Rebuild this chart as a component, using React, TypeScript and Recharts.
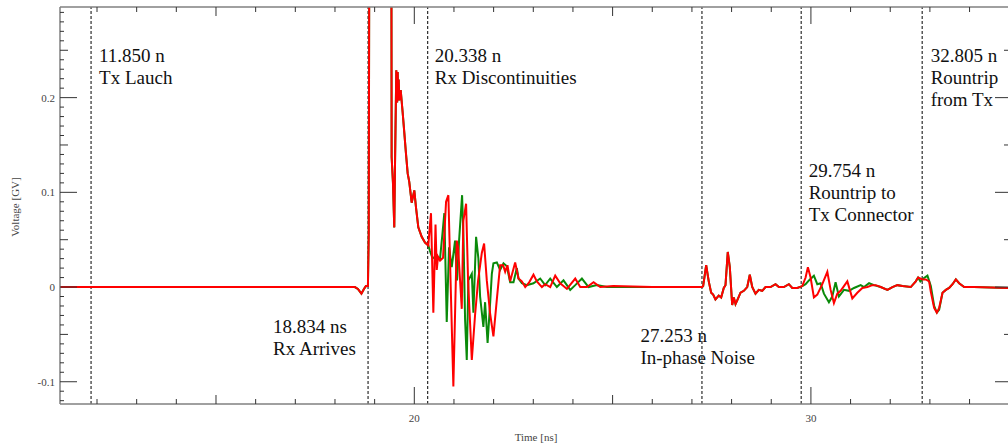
import React from 'react';
import { LineChart, Line, XAxis, YAxis, ReferenceLine } from 'recharts';

type Pt = [number, number];

// ---- data (time in ns, voltage in GV) ----
const commonStart: Pt[] = [
  [11.06, 0], [18.502, 0], [18.578, -0.002], [18.667, -0.007], [18.73, -0.002], [18.78, 0.001],
  [18.831, 0.001], [18.851, 0.057], [18.869, 0.45], [19.05, 0.62], [19.25, 0.58], [19.419, 0.45],
  [19.429, 0.137], [19.462, 0.11], [19.495, 0.063], [19.513, 0.127], [19.546, 0.229], [19.568, 0.195],
  [19.581, 0.227], [19.594, 0.197], [19.606, 0.219], [19.621, 0.197], [19.657, 0.208], [19.707, 0.184],
  [19.748, 0.163], [19.79, 0.141], [19.833, 0.12], [19.873, 0.111], [19.934, 0.089], [20.0, 0.102],
  [20.043, 0.084], [20.101, 0.063], [20.187, 0.053], [20.27, 0.047], [20.353, 0.044],
];

const redBurst: Pt[] = [
  [20.421, 0.078], [20.48, -0.027], [20.535, 0.066], [20.566, 0.018], [20.598, 0.032], [20.649, 0.028],
  [20.725, 0.031], [20.801, 0.09], [20.859, 0.097], [20.914, 0.007], [20.985, -0.105], [21.071, 0.049],
  [21.104, 0.042], [21.154, 0.007], [21.197, -0.023], [21.237, 0.07], [21.306, 0.088], [21.356, 0.007],
  [21.45, -0.077], [21.533, -0.029], [21.609, 0.007], [21.702, 0.036], [21.76, 0.046], [21.828, 0.007],
  [21.912, -0.028], [21.995, -0.052], [22.081, -0.013], [22.164, 0.023], [22.24, 0.023], [22.291, 0.016],
  [22.349, 0.023], [22.417, 0.006], [22.543, 0.026], [22.627, 0.009], [22.712, 0.006], [22.796, 0.0],
  [22.897, 0.005], [23.005, 0.013], [23.091, 0.006], [23.217, 0.0], [23.3, 0.003], [23.427, 0.0],
  [23.553, 0.012], [23.679, 0.004], [23.848, -0.002], [24.058, 0.009], [24.184, 0.0], [24.353, 0.0],
  [24.52, 0.005], [24.689, 0.0], [25.017, 0.001], [26.0, 0.0], [27.215, 0.0],
];

const greenBurst: Pt[] = [
  [20.396, 0.038], [20.447, 0.032], [20.523, 0.03], [20.573, 0.032], [20.649, 0.03], [20.707, 0.055],
  [20.757, 0.078], [20.818, -0.037], [20.876, 0.042], [20.944, 0.021], [21.028, 0.049], [21.078, 0.007],
  [21.129, 0.049], [21.205, 0.097], [21.242, 0.049], [21.28, -0.034], [21.323, -0.077], [21.363, 0.007],
  [21.45, 0.014], [21.49, -0.027], [21.558, 0.053], [21.616, 0.03], [21.659, -0.01], [21.742, -0.042],
  [21.785, -0.016], [21.848, -0.059], [21.912, -0.017], [21.955, 0.014], [21.995, 0.025], [22.081, 0.026],
  [22.164, 0.018], [22.249, 0.025], [22.333, 0.022], [22.417, 0.005], [22.501, 0.005], [22.585, 0.02],
  [22.627, 0.009], [22.712, 0.004], [22.838, 0.002], [23.005, 0.004], [23.174, 0.009], [23.3, 0.002],
  [23.427, 0.009], [23.595, 0.0], [23.762, 0.007], [23.931, -0.003], [24.058, 0.002], [24.226, 0.009],
  [24.394, 0.0], [24.604, 0.002], [24.857, 0.0], [26.0, 0.0], [27.215, 0.0],
];

const commonMid: Pt[] = [
  [27.258, 0], [27.283, 0.001], [27.359, 0.023], [27.424, 0.006], [27.485, -0.006], [27.535, -0.008],
  [27.593, -0.013], [27.676, -0.009], [27.737, -0.011], [27.803, -0.001], [27.846, 0.002], [27.904, 0.037],
  [27.955, 0.021], [28.015, -0.019], [28.056, -0.011], [28.099, -0.018], [28.142, -0.014], [28.225, -0.006],
  [28.309, -0.004], [28.394, 0.0], [28.459, 0.013], [28.52, 0.0], [28.603, -0.007], [28.686, -0.003],
  [28.772, -0.004], [28.856, 0.0], [28.982, 0.0], [29.108, 0.003], [29.192, 0.0], [29.318, 0.0],
  [29.444, 0.003], [29.53, -0.001], [29.656, -0.001], [29.782, 0.001],
];

const redLate: Pt[] = [
  [29.866, 0.01], [29.924, 0.021], [29.992, 0.01], [30.075, -0.011], [30.161, -0.008], [30.287, 0.003],
  [30.414, 0.016], [30.497, -0.003], [30.58, -0.017], [30.666, -0.007], [30.749, -0.004], [30.918, 0.006],
  [31.044, -0.012], [31.17, -0.006], [31.297, -0.001], [31.423, 0.0], [31.549, 0.002], [31.633, 0.002],
];

const greenLate: Pt[] = [
  [29.866, 0.003], [29.95, 0.007], [30.075, 0.012], [30.161, 0.003], [30.244, 0.004], [30.328, -0.007],
  [30.454, -0.016], [30.538, -0.01], [30.622, 0.005], [30.706, -0.01], [30.833, -0.003], [30.96, -0.004],
  [31.086, -0.001], [31.255, 0.002], [31.339, 0.0], [31.466, 0.004], [31.592, 0.002],
];

const commonTail1: Pt[] = [
  [31.76, 0.0], [31.929, -0.003], [32.055, 0.0], [32.181, 0.002], [32.308, 0.001], [32.517, 0.0],
  [32.644, 0.006], [32.702, 0.01],
];

const redEnd: Pt[] = [
  [32.813, 0.008], [32.896, 0.008], [32.98, 0.006], [33.023, -0.005], [33.107, -0.022], [33.175, -0.027],
  [33.233, -0.022],
];

const greenEnd: Pt[] = [
  [32.759, 0.006], [32.835, 0.009], [32.938, 0.012], [33.023, 0.001], [33.107, -0.02], [33.175, -0.027],
  [33.233, -0.024],
];

const commonTail2: Pt[] = [
  [33.318, -0.006], [33.402, -0.003], [33.485, -0.001], [33.571, 0.003], [33.654, 0.008], [33.737, 0.004],
  [33.864, 0.0], [34.109, 0.0], [35.07, -0.001],
];

const markerTimes = [11.85, 18.834, 20.338, 27.253, 29.754, 32.805];
const markerLabels: string[][] = [
  ['11.850 n', 'Tx Lauch'],
  ['18.834 ns', 'Rx Arrives'],
  ['20.338 n', 'Rx Discontinuities'],
  ['27.253 n', 'In-phase Noise'],
  ['29.754 n', 'Rountrip to', 'Tx Connector'],
  ['32.805 n', 'Rountrip', 'from Tx'],
];

const xTickValues = Array.from({ length: 24 }, (_, i) => 12 + i);
const xLabelValues = [20, 30];
const yTickValues = Array.from({ length: 42 }, (_, i) => (i - 12) / 100);
const yLabelValues = [-0.1, 0, 0.1, 0.2];

const xTitle = 'Time [ns]';
const yTitle = 'Voltage [GV]';

// ---- layout / style ----
const W = 1020;
const H = 444;
const serif = '"Liberation Serif", "Times New Roman", serif';
const labelPlacement = [
  { dx: 8, y: 62 },
  { dx: -95, y: 333 },
  { dx: 7, y: 62 },
  { dx: -61.5, y: 342 },
  { dx: 7.5, y: 177 },
  { dx: 8.5, y: 62 },
];
const lineGap = 22;

const toRows = (pts: Pt[]) => pts.map(([t, v]) => ({ t, v }));
const redData = toRows([...commonStart, ...redBurst, ...commonMid, ...redLate, ...commonTail1, ...redEnd, ...commonTail2]);
const greenData = toRows([...commonStart, ...greenBurst, ...commonMid, ...greenLate, ...commonTail1, ...greenEnd, ...commonTail2]);

const isMult = (v: number, step: number) => Math.abs(v / step - Math.round(v / step)) < 1e-6;

const XTick = (props: any) => {
  const { x, y, payload, pos } = props;
  const v = payload.value as number;
  const major = isMult(v, 10);
  const med = !major && isMult(v, 5);
  const len = major ? 17 : med ? 9 : 5;
  const dir = pos === 'top' ? 1 : -1;
  const showLabel = pos !== 'top' && xLabelValues.some((l) => Math.abs(l - v) < 1e-6);
  return (
    <g>
      <line x1={x} x2={x} y1={y} y2={y + dir * len} stroke="#333" strokeWidth={1} />
      {showLabel && (
        <text x={x} y={y + 18} textAnchor="middle" fontFamily={serif} fontSize={11} fill="#444">
          {String(v)}
        </text>
      )}
    </g>
  );
};

const YTick = (props: any) => {
  const { x, y, payload, pos } = props;
  const v = payload.value as number;
  const major = isMult(v, 0.1);
  const med = !major && isMult(v, 0.05);
  const len = major ? 17 : med ? 8 : 4;
  const dir = pos === 'right' ? -1 : 1;
  const showLabel = pos !== 'right' && yLabelValues.some((l) => Math.abs(l - v) < 1e-6);
  return (
    <g>
      <line x1={x} x2={x + dir * len} y1={y} y2={y} stroke="#333" strokeWidth={1} />
      {showLabel && (
        <text x={x - 5} y={y + 4} textAnchor="end" fontFamily={serif} fontSize={11} fill="#444">
          {Math.abs(v) < 1e-9 ? '0' : String(Math.round(v * 10) / 10)}
        </text>
      )}
    </g>
  );
};

const MarkerLabel = (props: any) => {
  const { viewBox, idx } = props;
  const x = (viewBox && viewBox.x) || 0;
  const p = labelPlacement[idx];
  return (
    <text x={x + p.dx} y={p.y} fontFamily={serif} fontSize={19} fill="#111">
      {markerLabels[idx].map((s, k) => (
        <tspan key={k} x={x + p.dx} dy={k === 0 ? 0 : lineGap}>
          {s}
        </tspan>
      ))}
    </text>
  );
};

const axisLineStyle = { stroke: '#808080', strokeWidth: 1.5 };
const xDomain: [number, number] = [11.067, 35.07];
const yDomain: [number, number] = [-0.1235, 0.2957];

export default function App() {
  return (
    <div style={{ position: 'absolute', left: 0, top: 0, width: 1008, height: 444, overflow: 'hidden', background: '#fff' }}>
      <LineChart width={W} height={H} margin={{ top: 6, right: 7, bottom: 39, left: 59 }}>
        <XAxis
          xAxisId="b"
          type="number"
          dataKey="t"
          orientation="bottom"
          domain={xDomain}
          allowDataOverflow
          height={1}
          ticks={xTickValues}
          interval={0}
          tickSize={0}
          tickMargin={0}
          tickLine={false}
          axisLine={axisLineStyle}
          tick={(p: any) => <XTick {...p} pos="bottom" />}
        />
        <XAxis
          xAxisId="t"
          type="number"
          dataKey="t"
          orientation="top"
          domain={xDomain}
          allowDataOverflow
          height={1}
          ticks={xTickValues}
          interval={0}
          tickSize={0}
          tickMargin={0}
          tickLine={false}
          axisLine={axisLineStyle}
          tick={(p: any) => <XTick {...p} pos="top" />}
        />
        <YAxis
          yAxisId="l"
          type="number"
          orientation="left"
          domain={yDomain}
          allowDataOverflow
          width={1}
          ticks={yTickValues}
          interval={0}
          tickSize={0}
          tickMargin={0}
          tickLine={false}
          axisLine={axisLineStyle}
          tick={(p: any) => <YTick {...p} pos="left" />}
        />
        <YAxis
          yAxisId="r"
          type="number"
          orientation="right"
          domain={yDomain}
          allowDataOverflow
          width={1}
          ticks={yTickValues}
          interval={0}
          tickSize={0}
          tickMargin={0}
          tickLine={false}
          axisLine={axisLineStyle}
          tick={(p: any) => <YTick {...p} pos="right" />}
        />
        {markerTimes.map((t, i) => (
          <ReferenceLine
            key={t}
            x={t}
            xAxisId="b"
            yAxisId="l"
            stroke="#000"
            strokeWidth={1}
            strokeDasharray="3 2"
            ifOverflow="hidden"
            label={(p: any) => <MarkerLabel {...p} idx={i} />}
          />
        ))}
        <Line
          xAxisId="b"
          yAxisId="l"
          data={greenData}
          dataKey="v"
          type="linear"
          stroke="#0a8a0a"
          strokeWidth={2}
          dot={false}
          isAnimationActive={false}
        />
        <Line
          xAxisId="b"
          yAxisId="l"
          data={redData}
          dataKey="v"
          type="linear"
          stroke="#ff0000"
          strokeWidth={2}
          dot={false}
          isAnimationActive={false}
        />
      </LineChart>
      <svg width={1008} height={444} style={{ position: 'absolute', left: 0, top: 0, pointerEvents: 'none' }}>
        <text x={536} y={441} textAnchor="middle" fontFamily={serif} fontSize={11} fill="#444">
          {xTitle}
        </text>
        <text transform="translate(18.5,207) rotate(-90)" textAnchor="middle" fontFamily={serif} fontSize={11} fill="#444">
          {yTitle}
        </text>
      </svg>
    </div>
  );
}
